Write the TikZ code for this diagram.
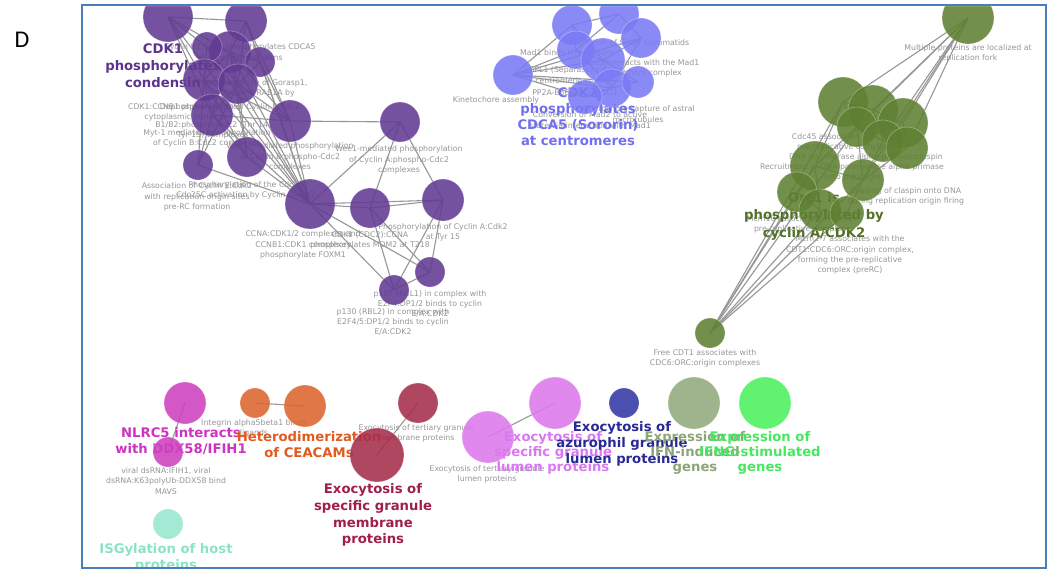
\documentclass[tikz,border=0pt]{standalone}
\usepackage{fontspec}
\setmainfont{DejaVu Sans}
\newfontfamily\panelfont{Carlito}
\definecolor{purp}{RGB}{98,58,146}
\definecolor{purpT}{RGB}{92,52,140}
\definecolor{lav}{RGB}{122,122,245}
\definecolor{lavT}{RGB}{112,112,238}
\definecolor{olive}{RGB}{95,128,50}
\definecolor{oliveT}{RGB}{82,112,40}
\definecolor{mag}{RGB}{205,65,190}
\definecolor{magT}{RGB}{205,50,195}
\definecolor{orng}{RGB}{220,100,45}
\definecolor{orngT}{RGB}{225,90,30}
\definecolor{crim}{RGB}{165,45,75}
\definecolor{crimT}{RGB}{160,30,75}
\definecolor{viol}{RGB}{220,120,235}
\definecolor{violT}{RGB}{216,120,240}
\definecolor{navy}{RGB}{50,55,165}
\definecolor{navyT}{RGB}{40,40,150}
\definecolor{sage}{RGB}{145,170,125}
\definecolor{sageT}{RGB}{140,165,120}
\definecolor{lime}{RGB}{75,240,95}
\definecolor{limeT}{RGB}{70,232,95}
\definecolor{aqua}{RGB}{150,230,205}
\definecolor{aquaT}{RGB}{140,225,200}
\definecolor{linkgray}{RGB}{150,150,150}
\definecolor{labgray}{RGB}{150,150,155}
\definecolor{framecol}{RGB}{74,126,187}
\pgfdeclarelayer{edges}
\pgfdeclarelayer{labels}
\pgfsetlayers{edges,labels,main}
\begin{document}
\begin{tikzpicture}[x=1pt,y=-1pt,
  nd/.style={circle,inner sep=0pt,fill opacity=0.88,draw=white,draw opacity=0.35,line width=0.6pt},
  lk/.style={draw=linkgray,line width=1.1pt},
  gl/.style={text=labgray,font=\fontsize{7.8}{10.2}\selectfont,align=center,inner sep=0pt},
  bl/.style={font=\fontsize{13.2}{16}\selectfont\bfseries,align=center,inner sep=0pt},
]
\useasboundingbox (0,0) rectangle (1049,574);

% ---------- cell-cycle (purple) cluster ----------
\node[nd,fill=purp,minimum size=50] (p1) at (168,17) {};
\node[nd,fill=purp,minimum size=42] (p2) at (246,21) {};
\node[nd,fill=purp,minimum size=42] (p3) at (230,52) {};
\node[nd,fill=purp,minimum size=30] (p4) at (207,47) {};
\node[nd,fill=purp,minimum size=30] (p5) at (260,62) {};
\node[nd,fill=purp,minimum size=42] (p6) at (204,80) {};
\node[nd,fill=purp,minimum size=40] (p7) at (238,84) {};
\node[nd,fill=purp,minimum size=42] (p8) at (212,115) {};
\node[nd,fill=purp,minimum size=42] (p9) at (290,121) {};
\node[nd,fill=purp,minimum size=30] (p10) at (198,165) {};
\node[nd,fill=purp,minimum size=40] (p11) at (247,157) {};
\node[nd,fill=purp,minimum size=50] (p12) at (310,204) {};
\node[nd,fill=purp,minimum size=40] (p13) at (400,122) {};
\node[nd,fill=purp,minimum size=40] (p14) at (370,208) {};
\node[nd,fill=purp,minimum size=42] (p15) at (443,200) {};
\node[nd,fill=purp,minimum size=30] (p16) at (430,272) {};
\node[nd,fill=purp,minimum size=30] (p17) at (394,290) {};

% ---------- mitotic (lavender) cluster ----------
\node[nd,fill=lav,minimum size=40] (b1) at (513,75) {};
\node[nd,fill=lav,minimum size=40] (b2) at (572,25) {};
\node[nd,fill=lav,minimum size=40] (b3) at (619,14) {};
\node[nd,fill=lav,minimum size=40] (b4) at (641,38) {};
\node[nd,fill=lav,minimum size=38] (b5) at (576,50) {};
\node[nd,fill=lav,minimum size=44] (b6) at (603,60) {};
\node[nd,fill=lav,minimum size=38] (b7) at (612,88) {};
\node[nd,fill=lav,minimum size=34] (b8) at (585,97) {};
\node[nd,fill=lav,minimum size=32] (b9) at (638,82) {};

% ---------- DNA replication (olive) cluster ----------
\node[nd,fill=olive,minimum size=52] (g0) at (968,18) {};
\node[nd,fill=olive,minimum size=50] (g1) at (843,102) {};
\node[nd,fill=olive,minimum size=50] (g2) at (873,110) {};
\node[nd,fill=olive,minimum size=50] (g3) at (903,123) {};
\node[nd,fill=olive,minimum size=40] (g4) at (857,127) {};
\node[nd,fill=olive,minimum size=42] (g5) at (883,141) {};
\node[nd,fill=olive,minimum size=42] (g6) at (907,148) {};
\node[nd,fill=olive,minimum size=50] (g7) at (815,166) {};
\node[nd,fill=olive,minimum size=40] (g8) at (797,192) {};
\node[nd,fill=olive,minimum size=42] (g9) at (820,210) {};
\node[nd,fill=olive,minimum size=42] (g10) at (863,180) {};
\node[nd,fill=olive,minimum size=34] (g11) at (847,213) {};
\node[nd,fill=olive,minimum size=30] (g12) at (710,333) {};

% ---------- small groups ----------
\node[nd,fill=mag,minimum size=42] (n1) at (185,403) {};
\node[nd,fill=mag,minimum size=30] (n2) at (168,452) {};
\node[nd,fill=orng,minimum size=30] (o1) at (255,403) {};
\node[nd,fill=orng,minimum size=42] (o2) at (305,406) {};
\node[nd,fill=crim,minimum size=40] (c1) at (418,403) {};
\node[nd,fill=crim,minimum size=54] (c2) at (377,455) {};
\node[nd,fill=viol,minimum size=52] (v1) at (555,403) {};
\node[nd,fill=viol,minimum size=52] (v2) at (488,437) {};
\node[nd,fill=navy,minimum size=30] (z1) at (624,403) {};
\node[nd,fill=sage,minimum size=52] (s1) at (694,403) {};
\node[nd,fill=lime,minimum size=52] (e1) at (765,403) {};
\node[nd,fill=aqua,minimum size=30] (a1) at (168,524) {};

% ---------- links ----------
\begin{pgfonlayer}{edges}
\foreach \a/\b in {p1/p2,p1/p3,p1/p4,p1/p6,p1/p8,p2/p3,p2/p5,p2/p7,p2/p9,p3/p4,p3/p5,p3/p6,p3/p7,p3/p8,
  p4/p6,p4/p7,p5/p7,p5/p9,p6/p7,p6/p8,p7/p8,p3/p12,p4/p12,p5/p12,p6/p12,p7/p12,p8/p12,p1/p12,p2/p12,
  p6/p11,p7/p11,p8/p11,p3/p11,p8/p10,p6/p10,p7/p10,p3/p9,p6/p9,p7/p9,p8/p9,p9/p12,p10/p12,p11/p12,
  p9/p13,p12/p13,p12/p14,p12/p15,p13/p14,p13/p15,p14/p15,p12/p17,p12/p16,p14/p17,p14/p16,p15/p16,p15/p17,p16/p17,
  b1/b2,b1/b4,b1/b5,b1/b6,b1/b7,b1/b8,b1/b9,b2/b3,b2/b5,b3/b4,b3/b5,b4/b6,b5/b6,b5/b7,b6/b7,b6/b9,b7/b8,b7/b9,b2/b6,b4/b7,
  g0/g1,g0/g2,g0/g3,g0/g4,g0/g5,g0/g6,g0/g10,
  g12/g7,g12/g8,g12/g9,g12/g11,g12/g10,g12/g4,g12/g1,
  g1/g2,g1/g4,g2/g3,g2/g5,g3/g6,g4/g5,g5/g6,g4/g7,g5/g10,g7/g8,g7/g9,g8/g9,g9/g11,g10/g11,g7/g10,g1/g7,g4/g10,g6/g10,
  n1/n2,o1/o2,c1/c2,v1/v2}
  \draw[lk] (\a.center) -- (\b.center);
\end{pgfonlayer}

% ---------- labels ----------
\begin{pgfonlayer}{labels}
% purple cluster
\node[gl] (l1) at (240,52) {Cyclin B1:Cdk1 phosphorylates CDCA5\\at chromosomal arms};
\node[gl] (l2) at (252,88) {Phosphorylation of Gorasp1,\\Golga2 and RAB1A by};
\node[gl] (l3) at (230,107) {Dephosphorylation of Cyclin B:Cdc2};
\node[gl] (l4) at (185,112) {CDK1:CCNB1 phosphorylates\\cytoplasmic proteins};
\node[gl] (l5) at (213,130) {B1/B2:phospho-Cdc2 (Thr 14,\\Tyr 15) complexes};
\node[gl] (l6) at (207,138) {Myt-1 mediated phosphorylation\\of Cyclin B:Cdc2 complexes};
\node[gl] (l7) at (290,157) {Wee1-mediated phosphorylation\\of Cyclin B:phospho-Cdc2\\complexes};
\node[gl] (l8) at (399,160) {Wee1-mediated phosphorylation\\of Cyclin A:phospho-Cdc2\\complexes};
\node[gl] (l9) at (197,197) {Association of Cyclin E:Cdk2\\with replication origin sites\\pre-RC formation};
\node[gl] (l10) at (246,190) {Phosphorylation of the Cdc25\\Cdc25C activation by Cyclin B/Cdc2};
\node[gl] (l11) at (303,245) {CCNA:CDK1/2 complexes and\\CCNB1:CDK1 complexes\\phosphorylate FOXM1};
\node[gl] (l12) at (370,240) {CDK1 (CDC2):CCNA\\phosphorylates MDM2 at T218};
\node[gl] (l13) at (443,232) {Phosphorylation of Cyclin A:Cdk2\\at Tyr 15};
\node[gl] (l14) at (430,304) {p107 (RBL1) in complex with\\E2F4:DP1/2 binds to cyclin\\E/A:CDK2};
\node[gl] (l15) at (393,322) {p130 (RBL2) in complex with\\E2F4/5:DP1/2 binds to cyclin\\E/A:CDK2};
\node[bl,text=purpT,font=\fontsize{13.2}{17}\selectfont\bfseries] (L1) at (163,66) {CDK1\\phosphorylates\\condensin};
% lavender cluster
\node[gl] (m1) at (567,53) {Mad1 binds kinetochore};
\node[gl] (m2) at (575,75) {ESPL1 (Separase) cleaves\\centromeric cohesin};
\node[gl] (m3) at (627,43) {Separation of Sister Chromatids};
\node[gl] (m4) at (641,68) {Mad2 interacts with the Mad1\\kinetochore complex};
\node[gl] (m5) at (575,93) {PP2A-B56 binds SGO1};
\node[gl] (m6) at (496,100) {Kinetochore assembly};
\node[gl] (m7) at (638,114) {Kinetochore capture of astral\\microtubules};
\node[gl] (m8) at (590,120) {Conversion of Mad2 to active\\state via interaction with Mad1};
\node[bl,text=lavT] (L2) at (578,117) {CDK1\\phosphorylates\\CDCA5 (Sororin)\\at centromeres};
% olive cluster
\node[gl] (q1) at (968,53) {Multiple proteins are localized at\\replication fork};
\node[gl] (q2) at (843,142) {Cdc45 associates with the\\pre-replicative complex};
\node[gl] (q3) at (866,157) {DNA polymerase alpha:primase:claspin};
\node[gl] (q4) at (852,172) {Recruitment of DNA polymerase alpha primase\\onto the origin};
\node[gl] (q5) at (906,196) {Loading of claspin onto DNA\\during replication origin firing};
\node[gl] (q6) at (800,224) {Mcm10 associates with the\\pre-replicative complex};
\node[gl] (q7) at (850,255) {Mcm2-7 associates with the\\CDT1:CDC6:ORC:origin complex,\\forming the pre-replicative\\complex (preRC)};
\node[gl] (q8) at (705,358) {Free CDT1 associates with\\CDC6:ORC:origin complexes};
\node[bl,text=oliveT,font=\fontsize{13.2}{17.5}\selectfont\bfseries] (L3) at (814,216) {Orc1 is\\phosphorylated by\\cyclin A/CDK2};
% small groups
\node[gl] (r1) at (166,481) {viral dsRNA:IFIH1, viral\\dsRNA:K63polyUb-DDX58 bind\\MAVS};
\node[gl] (r2) at (254,428) {Integrin alpha5beta1 binds\\ligands};
\node[gl] (r3) at (416,433) {Exocytosis of tertiary granule\\membrane proteins};
\node[gl] (r4) at (487,474) {Exocytosis of tertiary granule\\lumen proteins};
\node[bl,text=magT] (L4) at (181,441) {NLRC5 interacts\\with DDX58/IFIH1};
\node[bl,text=orngT] (L5) at (309,445) {Heterodimerization\\of CEACAMs};
\node[bl,text=crimT,font=\fontsize{13.2}{16.7}\selectfont\bfseries] (L6) at (373,515) {Exocytosis of\\specific granule\\membrane\\proteins};
\node[bl,text=violT,font=\fontsize{13.2}{15}\selectfont\bfseries] (L7) at (553,453) {Exocytosis of\\specific granule\\lumen proteins};
\node[bl,text=navyT] (L8) at (622,444) {Exocytosis of\\azurophil granule\\lumen proteins};
\node[bl,text=sageT,font=\fontsize{13.2}{15}\selectfont\bfseries] (L9) at (695,453) {Expression of\\IFN-induced\\genes};
\node[bl,text=limeT,font=\fontsize{13.2}{15}\selectfont\bfseries] (L10) at (760,453) {Expression of\\IFNG-stimulated\\genes};
\node[bl,text=aquaT] (L11) at (166,558) {ISGylation of host\\proteins};
\end{pgfonlayer}

% ---------- panel frame and letter ----------
\fill[white,even odd rule] (0,0) rectangle (1049,574) (83,6) rectangle (1045,567);
\draw[framecol,line width=1.8pt] (82,5) rectangle (1046,568);
\node[font=\panelfont\fontsize{24}{24}\selectfont,inner sep=0pt] (D) at (22,40) {D};
\end{tikzpicture}
\end{document}
